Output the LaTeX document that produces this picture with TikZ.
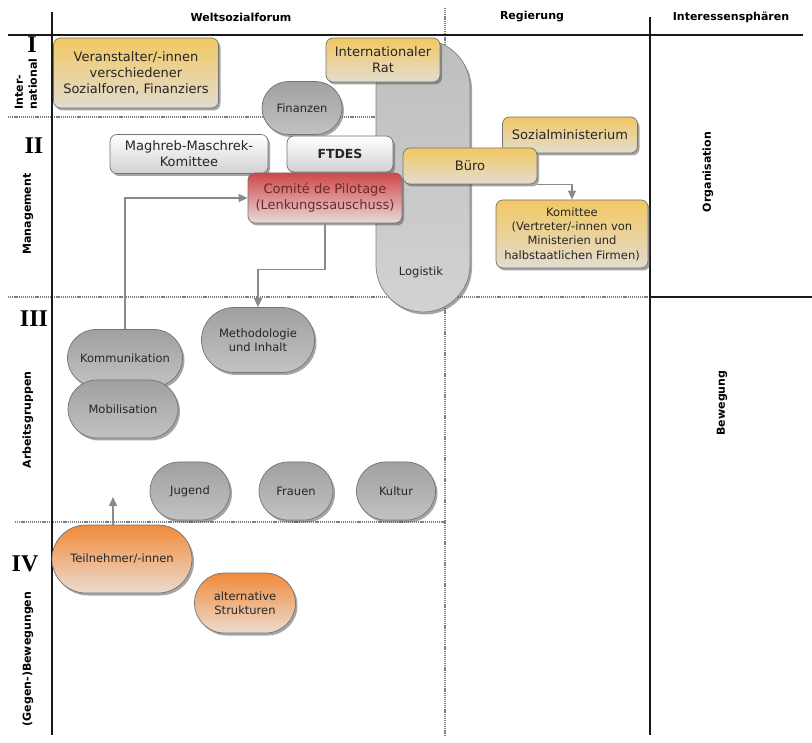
\documentclass[tikz,border=0pt]{standalone}
\usepackage{fontspec}
\setmainfont{DejaVu Sans}
\newfontfamily\romfont{Liberation Serif}
\usetikzlibrary{shapes.misc,shadows,arrows.meta}
\definecolor{ylwtop}{HTML}{F2C862}
\definecolor{ylwbot}{HTML}{E2DCD0}
\definecolor{redtop}{HTML}{D04848}
\definecolor{redbot}{HTML}{E8DADA}
\definecolor{orgtop}{HTML}{F08A3A}
\definecolor{orgbot}{HTML}{ECDCD0}
\definecolor{grytop}{HTML}{A0A0A0}
\definecolor{grymid}{HTML}{D4D4D4}
\definecolor{grybot}{HTML}{C2C2C2}
\definecolor{logitop}{HTML}{BEBEBE}
\definecolor{logibot}{HTML}{D2D2D2}
\definecolor{linegray}{HTML}{8A8A8A}
\definecolor{redtext}{HTML}{6B2A2A}
\begin{document}
\begin{tikzpicture}[x=1pt,y=-1pt,
  every node/.style={inner sep=0pt,align=center,text=black!85},
  shad/.style={drop shadow={shadow xshift=2pt,shadow yshift=-2.5pt,opacity=0.5,fill=black!70}},
  box/.style={rectangle,rounded corners=7pt,draw=black!55,line width=0.7pt,shad,font=\fontsize{13}{16}\selectfont},
  ylw/.style={box,top color=ylwtop,bottom color=ylwbot},
  wht/.style={box,top color=white,bottom color=black!18},
  pill/.style={rounded rectangle,draw=black!55,line width=0.7pt,shad,top color=grytop,middle color=grymid,bottom color=grybot,font=\fontsize{11.5}{14}\selectfont},
  orp/.style={pill,top color=orgtop,middle color=orgtop!45!orgbot,bottom color=orgbot},
  hdr/.style={font=\bfseries\fontsize{11}{14}\selectfont,text=black},
  rom/.style={font=\romfont\bfseries\fontsize{24}{24}\selectfont,text=black},
  axisline/.style={line width=2.5pt,black!90},
  dotline/.style={line width=2.2pt,black!50,dash pattern=on 1.2pt off 0.9pt},
  arr/.style={draw=linegray,line width=1.5pt,-{Triangle[length=9pt,width=8pt]}}]
\useasboundingbox (0,0) rectangle (812,743);
% grid lines
\draw[dotline] (445,8) -- (445,735);
\draw[dotline] (8,117) -- (445,117);
\draw[dotline] (8,297) -- (650,297);
\draw[dotline] (15,522) -- (445,522);
\draw[axisline] (8,35) -- (803,35);
\draw[axisline] (52,12) -- (52,735);
\draw[axisline] (650,17) -- (650,735);
\draw[axisline] (650,297) -- (812,297);
% headers
\node[hdr] (h1) at (241,17) {Weltsozialforum};
\node[hdr] (h2) at (532,17) {Regierung};
\node[hdr] (h3) at (731,17) {Interessensphären};
\node[hdr,rotate=90,align=left] (r1) at (26,84) {Inter-\\national};
\node[hdr,rotate=90] (r2) at (28,214) {Management};
\node[hdr,rotate=90] (r3) at (28,420) {Arbeitsgruppen};
\node[hdr,rotate=90] (r4) at (28,659) {(Gegen-)Bewegungen};
\node[hdr,rotate=90] (s1) at (708,172) {Organisation};
\node[hdr,rotate=90] (s2) at (722,403) {Bewegung};
\node[rom] (n1) at (32,45) {I};
\node[rom] (n2) at (34,146) {II};
\node[rom] (n3) at (34,319) {III};
\node[rom] (n4) at (25,564) {IV};
% nodes
\node[rectangle,rounded corners=47pt,draw=black!50,line width=0.7pt,shad,top color=logitop,bottom color=logibot,minimum width=94,minimum height=272] (logi) at (423,176) {};
\node[font=\fontsize{11.5}{14}\selectfont] (logit) at (421,272) {Logistik};
\node[pill,minimum width=80,minimum height=53] (fin) at (302,108) {Finanzen};
\node[ylw,minimum width=114,minimum height=44] (irat) at (383,60) {Internationaler\\Rat};
\node[ylw,minimum width=165,minimum height=70] (veran) at (136,73) {Veranstalter/-innen\\verschiedener\\Sozialforen, Finanziers};
\node[wht,minimum width=158,minimum height=39] (magh) at (189,154) {Maghreb-Maschrek-\\Komittee};
\node[wht,minimum width=106,minimum height=36,font=\bfseries\fontsize{12.5}{15}\selectfont] (ftdes) at (340,154) {FTDES};
\node[box,top color=redtop,bottom color=redbot,minimum width=154,minimum height=50,text=redtext] (comite) at (325,198) {Comité de Pilotage\\(Lenkungssauschuss)};
\node[ylw,minimum width=135,minimum height=36] (sozmin) at (570,135) {Sozialministerium};
\node[ylw,minimum width=134,minimum height=36] (buero) at (470,166) {Büro};
\node[ylw,minimum width=152,minimum height=68,font=\fontsize{11.5}{14.3}\selectfont] (komi) at (572,234) {Komittee\\(Vertreter/-innen von\\Ministerien und\\halbstaatlichen Firmen)};
\node[pill,minimum width=113,minimum height=65] (metho) at (258,340) {Methodologie\\und Inhalt};
\node[pill,minimum width=115,minimum height=57] (komm) at (125,358) {Kommunikation};
\node[pill,minimum width=110,minimum height=58] (mobi) at (123,409) {Mobilisation};
\node[pill,minimum width=80,minimum height=58] (jug) at (190,491) {Jugend};
\node[pill,minimum width=74,minimum height=58] (frau) at (296,491) {Frauen};
\node[pill,minimum width=79,minimum height=58] (kult) at (396,491) {Kultur};
\node[orp,minimum width=140,minimum height=68] (teil) at (122,559) {Teilnehmer/-innen};
\node[orp,minimum width=101,minimum height=60] (alt) at (245,603) {alternative\\Strukturen};
% connectors
\draw[arr] (komm.north) |- (comite.west);
\draw[arr] (comite.south) -- ++(0,46) -| (metho.north);
\draw[arr] (buero.south east) -| (komi.north);
\coordinate (tup) at (113,497);
\draw[arr] ([xshift=-9pt]teil.north) -- (tup);
\end{tikzpicture}
\end{document}
